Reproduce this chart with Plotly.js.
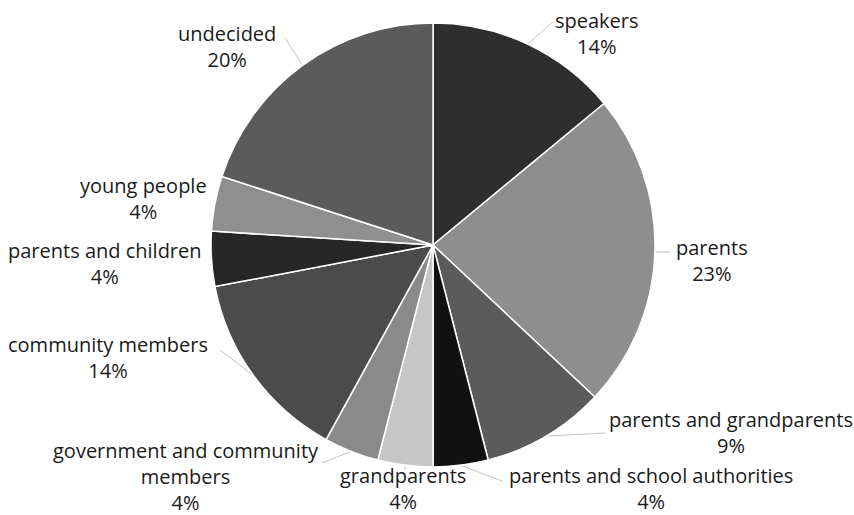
<!DOCTYPE html>
<html>
<head>
<meta charset="utf-8">
<script src="https://cdn.plot.ly/plotly-3.0.1.min.js"></script>
<style>
html, body { margin: 0; padding: 0; background: #ffffff; }
#chart { width: 854px; height: 515px; }
</style>
</head>
<body>
<div id="chart"></div>
<script>
// ---- data ----
var categories = [
  "speakers",
  "parents",
  "parents and grandparents",
  "parents and school authorities",
  "grandparents",
  "government and community<br>members",
  "community members",
  "parents and children",
  "young people",
  "undecided"
];
var shares = [14, 23, 9, 4, 4, 4, 14, 4, 4, 20];

// ---- styles / layout ----
var sliceColors = [
  "#2e2e2e", "#8e8e8e", "#5b5b5b", "#111111", "#c6c6c6",
  "#8a8a8a", "#4b4b4b", "#272727", "#8f8f8f", "#5b5b5b"
];
// label block centres in pixels (x centre, y middle), as placed in the original
var labelPos = [
  [597, 34], [712, 260], [731, 432], [651, 488], [403, 488],
  [186, 476], [108, 357], [105, 263], [143, 198], [227, 46]
];
// leader line outer ends (pixels), null = no leader
var leaderEnds = [
  [553, 22], [670, 252], [605, 433], [502, 481], [405, 470],
  [322, 463], [220, 350], null, null, [285, 38]
];

var W = 854, H = 515;
var dom = { x: [0.2471, 0.767], y: [0.0932, 0.9553] };
var cx = W * (dom.x[0] + dom.x[1]) / 2;
var cy = H * (1 - (dom.y[0] + dom.y[1]) / 2);
var rad = Math.min(W * (dom.x[1] - dom.x[0]), H * (dom.y[1] - dom.y[0])) / 2;

var total = shares.reduce(function (a, b) { return a + b; }, 0);

var annotations = [];
var shapes = [];
var cum = 0;
for (var i = 0; i < categories.length; i++) {
  var pct = Math.round(shares[i] / total * 100) + "%";
  annotations.push({
    xref: "paper", yref: "paper",
    x: labelPos[i][0] / W, y: 1 - labelPos[i][1] / H,
    xanchor: "center", yanchor: "middle",
    text: categories[i] + "<br>" + pct,
    showarrow: false,
    align: "center",
    font: { family: "Open Sans, sans-serif", size: 20, color: "#1a1a1a" }
  });
  var mid = 2 * Math.PI * (cum + shares[i] / 2) / total;
  cum += shares[i];
  if (leaderEnds[i]) {
    var ex = cx + rad * Math.sin(mid);
    var ey = cy - rad * Math.cos(mid);
    shapes.push({
      type: "line", xref: "paper", yref: "paper",
      x0: ex / W, y0: 1 - ey / H,
      x1: leaderEnds[i][0] / W, y1: 1 - leaderEnds[i][1] / H,
      line: { color: "#c4c4c4", width: 1 },
      layer: "below"
    });
  }
}

var trace = {
  type: "pie",
  labels: categories,
  values: shares,
  sort: false,
  direction: "clockwise",
  rotation: 0,
  textinfo: "none",
  marker: { colors: sliceColors, line: { color: "#ffffff", width: 1.5 } },
  domain: dom,
  showlegend: false,
  hoverinfo: "label+percent"
};

var layout = {
  width: W,
  height: H,
  margin: { l: 0, r: 0, t: 0, b: 0 },
  paper_bgcolor: "#ffffff",
  plot_bgcolor: "#ffffff",
  font: { family: "Open Sans, sans-serif", size: 20, color: "#1a1a1a" },
  showlegend: false,
  annotations: annotations,
  shapes: shapes
};

Plotly.newPlot("chart", [trace], layout, { displayModeBar: false, staticPlot: true });
</script>
</body>
</html>
